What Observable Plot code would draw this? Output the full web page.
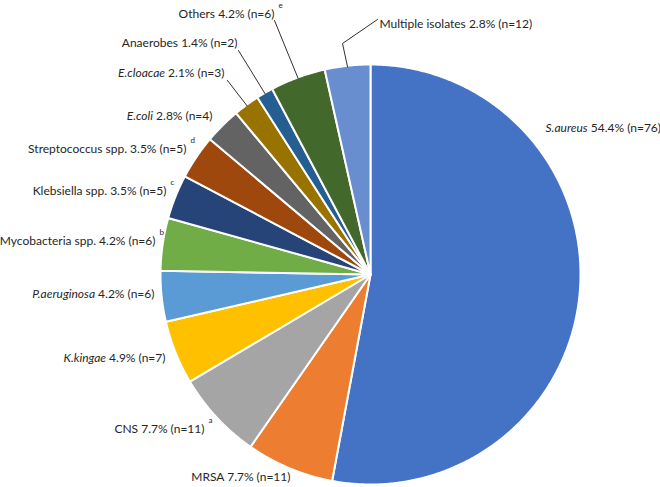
<!DOCTYPE html>
<html><head><meta charset="utf-8">
<script src="https://cdn.jsdelivr.net/npm/d3@7"></script>
<script src="https://cdn.jsdelivr.net/npm/@observablehq/plot@0.6"></script>
<style>body{margin:0;background:#fff} #chart{width:660px;height:487px}</style>
</head><body><div id="chart"></div>
<script>
// ---- data (clockwise from 12 o'clock) ----
const names  = ["S.aureus","MRSA","CNS","K.kingae","P.aeruginosa","Mycobacteria spp.","Klebsiella spp.","Streptococcus spp.","E.coli","E.cloacae","Anaerobes","Others","Multiple isolates"];
const italic = [true,false,false,true,true,false,false,false,true,true,false,false,false];
const pct    = [54.4,7.7,7.7,4.9,4.2,4.2,3.5,3.5,2.8,2.1,1.4,4.2,2.8];
const counts = [76,11,11,7,6,6,5,5,4,3,2,6,12];
const notes  = ["","","a","","","b","c","d","","","","e",""];
// slice sizes as drawn (share of the pie, %)
const share  = [52.9,6.75,6.8,4.9,3.9,4.05,3.4,3.4,2.8,2.0,1.3,4.25,3.5];
const colors = ["#4472C4","#ED7D31","#A5A5A5","#FFC000","#5B9BD5","#70AD47","#264478","#9E480E","#636363","#997300","#255E91","#43682B","#698ED0"];

// ---- layout (pie coordinates, centre = 0,0, y up) ----
const R = 210;
const labelPos = [[175,146],[-80,-203],[-166,-155],[-205,-84],[-216,-20],[-215,33],[-204,83],[-184,125],[-158,158],[-146,201],[-133,231],[-96,260],[9,250]];
const rightSide = [true,false,false,false,false,false,false,false,false,false,false,false,true];
const leaders = {9:[[-143,194]], 10:[[-132,224]], 11:[[-96,254]], 12:[[7,255],[-28,231]]};

const total = d3.sum(share);
let acc = 0;
const wedge = [];
const mids = [];
names.forEach((nm,i)=>{
  const a0 = acc/total*2*Math.PI; acc += share[i]; const a1 = acc/total*2*Math.PI;
  mids.push((a0+a1)/2);
  wedge.push({i,x:0,y:0,color:colors[i]});
  const n = Math.max(2, Math.ceil((a1-a0)/(Math.PI/360)));
  for (let k=0;k<=n;k++){ const a=a0+(a1-a0)*k/n; wedge.push({i,x:R*Math.sin(a),y:R*Math.cos(a),color:colors[i]}); }
  wedge.push({i,x:0,y:0,color:colors[i]});
});

const leaderPts = [];
Object.entries(leaders).forEach(([k,pts])=>{
  const i=+k;
  pts.forEach(p=>leaderPts.push({i,x:p[0],y:p[1]}));
  const m = mids[i];
  leaderPts.push({i,x:(R-1)*Math.sin(m),y:(R-1)*Math.cos(m)});
});

const labels = names.map((nm,i)=>({i,name:nm,x:labelPos[i][0],y:labelPos[i][1],
  text:`${nm} ${pct[i]}% (n=${counts[i]})`, right:rightSide[i], note:notes[i]}));

const font = {fontFamily:"Lato, 'Open Sans', sans-serif", fontSize:12, fill:"#262626"};

const plot = Plot.plot({
  width:660, height:487, margin:0,
  x:{domain:[-370,290], axis:null},
  y:{domain:[-213,274], axis:null},
  color:{type:"identity"},
  style:{background:"#fff"},
  marks:[
    Plot.line(wedge,{x:"x",y:"y",z:"i",fill:"color",stroke:"white",strokeWidth:2,strokeLinejoin:"round"}),
    Plot.line(leaderPts,{x:"x",y:"y",z:"i",stroke:"#303030",strokeWidth:1}),
    Plot.text(labels.filter(d=>!d.right),{x:"x",y:"y",text:"text",textAnchor:"end",...font}),
    Plot.text(labels.filter(d=>d.right),{x:"x",y:"y",text:"text",textAnchor:"start",...font}),
    Plot.text(labels.filter(d=>d.note),{x:d=>d.x+4,y:d=>d.y+9,text:"note",textAnchor:"start",fontFamily:font.fontFamily,fontSize:8,fill:"#262626"})
  ]
});
document.getElementById("chart").appendChild(plot);

// italic species names
plot.querySelectorAll("text").forEach(t=>{
  const s = t.textContent;
  names.forEach((nm,i)=>{
    if (italic[i] && s.startsWith(nm+" ")) {
      t.textContent = "";
      const sp = document.createElementNS("http://www.w3.org/2000/svg","tspan");
      sp.setAttribute("font-style","italic");
      sp.textContent = nm;
      t.appendChild(sp);
      t.appendChild(document.createTextNode(s.slice(nm.length)));
    }
  });
});
</script></body></html>
